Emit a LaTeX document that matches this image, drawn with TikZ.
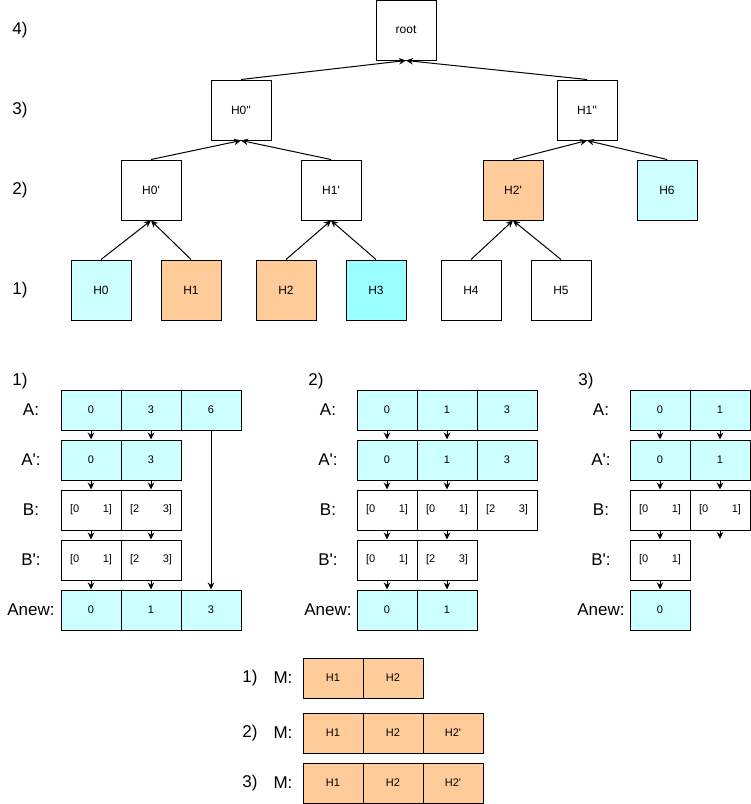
\documentclass[tikz,border=0pt]{standalone}
\usepackage{fontspec}
\setmainfont{Liberation Sans}
\usetikzlibrary{
    arrows.meta,
    positioning
}
\definecolor{pale cyan}{HTML}{CCFFFF}
\definecolor{bright cyan}{HTML}{99FFFF}
\definecolor{peach}{HTML}{FFCC99}
\tikzset{
    % Colors
    cyan cell/.style={fill=pale cyan},
    hot cell/.style={fill=bright cyan},
    merged cell/.style={fill=peach},
    plain cell/.style={fill=white},
    %
    % Boxes
    hashbox/.style={draw,minimum width=60pt,minimum height=60pt,inner sep=0pt,font=\fontsize{12}{14}\selectfont},
    cell/.style={draw,minimum width=60pt,minimum height=40pt,inner sep=0pt,font=\fontsize{11}{13}\selectfont},
    rowlabel/.style={font=\fontsize{17}{20}\selectfont},
    %
    % Arrows
    arrow tip/.tip={Stealth[length=7pt,width=6.5pt]},
    arr/.style={->,>={arrow tip}}
}
\newcommand{\apos}{\textquotesingle}
\newcommand{\intv}[2]{\makebox[42pt]{[#1\hfill#2]}}

\begin{document}
\begin{tikzpicture}[x=1pt,y=-1pt,line width=1pt]
        \useasboundingbox (0,0) rectangle (751,804);

        % tree
        \foreach \n/\y in {4/30,3/110,2/190,1/290}
            \node[rowlabel] (lvl\n) at (20,\y) {\n)};
        \node[hashbox] (root) at (406,30) {root};
        \node[hashbox] (h0pp) at (241,110) {H0\apos\apos};
        \node[hashbox] (h1pp) at (587,110) {H1\apos\apos};
        \node[hashbox] (h0p) at (151,190) {H0\apos};
        \node[hashbox] (h1p) at (331,190) {H1\apos};
        \node[hashbox,merged cell] (h2p) at (513,190) {H2\apos};
        \node[hashbox,cyan cell] (h6) at (667,190) {H6};
        \foreach \n/\x/\s in {0/101/cyan cell,1/191/merged cell,2/286/merged cell,3/376/hot cell,4/471/plain cell,5/561/plain cell}
            \node[hashbox,\s] (h\n) at (\x,290) {H\n};
        \foreach \c/\p in {h0/h0p,h1/h0p,h2/h1p,h3/h1p,h4/h2p,h5/h2p,h0p/h0pp,h1p/h0pp,h2p/h1pp,h6/h1pp,h0pp/root,h1pp/root}
            \draw[arr] (\c.north) -- (\p.south);

        % step 1
        \node[rowlabel] (s1) at (20,381) {1)};
        \foreach \t/\y in {A:/410,A\apos:/460,B:/510,B\apos:/560,Anew:/610}
            \node[rowlabel] at (31,\y) {\t};
        \foreach \v [count=\i] in {0,3,6}
            \node[cell,cyan cell] (a1-\i) at (31+60*\i,410) {\v};
        \foreach \v [count=\i] in {0,3}
            \node[cell,cyan cell] (ap1-\i) at (31+60*\i,460) {\v};
        \foreach \l/\r [count=\i] in {0/1,2/3}
            \node[cell] (b1-\i) at (31+60*\i,510) {\intv{\l}{\r}};
        \foreach \l/\r [count=\i] in {0/1,2/3}
            \node[cell] (bp1-\i) at (31+60*\i,560) {\intv{\l}{\r}};
        \foreach \v [count=\i] in {0,1,3}
            \node[cell,cyan cell] (an1-\i) at (31+60*\i,610) {\v};
        \foreach \i in {1,2}{
            \draw[arr] (a1-\i) -- (ap1-\i);
            \draw[arr] (ap1-\i) -- (b1-\i);
            \draw[arr] (b1-\i) -- (bp1-\i);
            \draw[arr] (bp1-\i) -- (an1-\i);
        }
        \draw[arr] (a1-3) -- (an1-3);

        % step 2
        \node[rowlabel] (s2) at (316,381) {2)};
        \foreach \t/\y in {A:/410,A\apos:/460,B:/510,B\apos:/560,Anew:/610}
            \node[rowlabel] at (328,\y) {\t};
        \foreach \v [count=\i] in {0,1,3}
            \node[cell,cyan cell] (a2-\i) at (327+60*\i,410) {\v};
        \foreach \v [count=\i] in {0,1,3}
            \node[cell,cyan cell] (ap2-\i) at (327+60*\i,460) {\v};
        \foreach \l/\r [count=\i] in {0/1,0/1,2/3}
            \node[cell] (b2-\i) at (327+60*\i,510) {\intv{\l}{\r}};
        \foreach \l/\r [count=\i] in {0/1,2/3}
            \node[cell] (bp2-\i) at (327+60*\i,560) {\intv{\l}{\r}};
        \foreach \v [count=\i] in {0,1}
            \node[cell,cyan cell] (an2-\i) at (327+60*\i,610) {\v};
        \foreach \i in {1,2}{
            \draw[arr] (a2-\i) -- (ap2-\i);
            \draw[arr] (ap2-\i) -- (b2-\i);
            \draw[arr] (b2-\i) -- (bp2-\i);
            \draw[arr] (bp2-\i) -- (an2-\i);
        }

        % step 3
        \node[rowlabel] (s3) at (586,381) {3)};
        \foreach \t/\y in {A:/410,A\apos:/460,B:/510,B\apos:/560,Anew:/610}
            \node[rowlabel] at (601,\y) {\t};
        \foreach \v [count=\i] in {0,1}
            \node[cell,cyan cell] (a3-\i) at (600+60*\i,410) {\v};
        \foreach \v [count=\i] in {0,1}
            \node[cell,cyan cell] (ap3-\i) at (600+60*\i,460) {\v};
        \foreach \l/\r [count=\i] in {0/1,0/1}
            \node[cell] (b3-\i) at (600+60*\i,510) {\intv{\l}{\r}};
        \node[cell] (bp3-1) at (660,560) {\intv{0}{1}};
        \node[cell,cyan cell] (an3-1) at (660,610) {0};
        \coordinate (drop3) at (720,539);
        \foreach \i in {1,2}{
            \draw[arr] (a3-\i) -- (ap3-\i);
            \draw[arr] (ap3-\i) -- (b3-\i);
        }
        \draw[arr] (b3-1) -- (bp3-1);
        \draw[arr] (b3-2) -- (drop3);
        \draw[arr] (bp3-1) -- (an3-1);

        % merge list
        \foreach \n/\y in {1/678,2/733,3/783}{
            \node[rowlabel] (m\n) at (250,\y) {\n)};
            \node[rowlabel] (ml\n) at (283,\y) {M:};
        }
        \foreach \v [count=\i] in {H1,H2}
            \node[cell,merged cell] (m1-\i) at (273+60*\i,678) {\v};
        \foreach \v [count=\i] in {H1,H2,H2\apos}
            \node[cell,merged cell] (m2-\i) at (273+60*\i,733) {\v};
        \foreach \v [count=\i] in {H1,H2,H2\apos}
            \node[cell,merged cell] (m3-\i) at (273+60*\i,783) {\v};
    \end{tikzpicture}
\end{document}
